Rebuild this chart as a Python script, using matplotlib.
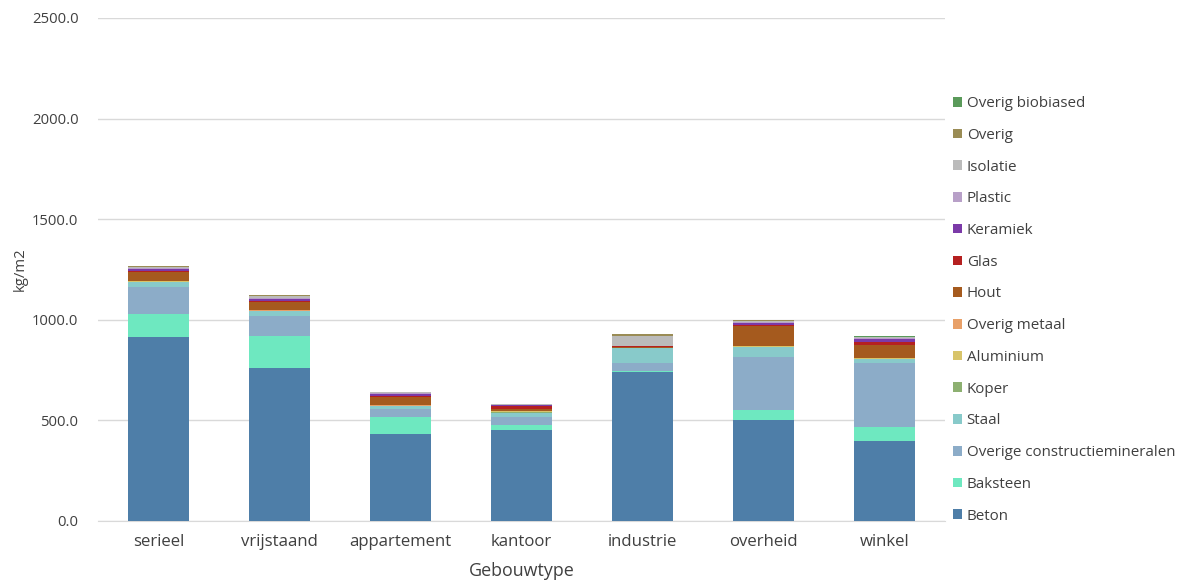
import matplotlib
matplotlib.use("Agg")
import matplotlib.pyplot as plt
import numpy as np

plt.rcParams['font.family'] = ['Open Sans', 'DejaVu Sans']

categories = ["serieel", "vrijstaand", "appartement", "kantoor", "industrie", "overheid", "winkel"]
materials = ["Beton", "Baksteen", "Overige constructiemineralen", "Staal", "Koper", "Aluminium",
             "Overig metaal", "Hout", "Glas", "Keramiek", "Plastic", "Isolatie", "Overig", "Overig biobiased"]

beton      = [916, 759, 432, 452, 742, 502, 399]
baksteen   = [113, 160, 83, 25, 5, 50, 70]
overige    = [135, 100, 42, 41, 37, 265, 318]
staal      = [25, 26, 15, 20, 74, 49, 20]
koper      = [0, 0, 0, 2, 0, 0, 0]
aluminium  = [2, 1, 2, 5, 1, 2, 2]
overig_met = [3, 2, 3, 4, 1, 2, 2]
hout       = [42, 39, 38, 8, 7, 101, 64]
glas       = [6, 8, 6, 15, 1, 5, 13]
keramiek   = [8, 8, 12, 3, 0, 10, 15]
plastic    = [5, 5, 4, 2, 1, 4, 5]
isolatie   = [8, 10, 4, 3, 50, 4, 5]
overig     = [3, 5, 2, 2, 8, 5, 3]
biobiased  = [0, 0, 0, 0, 0, 0, 3]

series = [beton, baksteen, overige, staal, koper, aluminium, overig_met, hout, glas,
          keramiek, plastic, isolatie, overig, biobiased]
colors = ["#4E7EA8", "#6EE8C0", "#8CACC8", "#88CACA", "#8DB071", "#D8C46A", "#E8A068",
          "#A55A1E", "#B52020", "#7B3AA8", "#B8A0C8", "#BBBBBB", "#9A8C55", "#5A9A5A"]

fig = plt.figure(figsize=(11.87, 5.85), dpi=100)
ax = fig.add_axes([98/1187, 1 - 521/585, (945-98)/1187, (521-18)/585])

x = np.arange(len(categories))
bottom = np.zeros(len(categories))
handles = []
for name, vals, c in zip(materials, series, colors):
    b = ax.bar(x, vals, 0.5, bottom=bottom, color=c, label=name, zorder=3)
    bottom += np.array(vals)
    handles.append(b)

ax.set_xlim(-0.5, len(categories) - 0.5)
ax.set_ylim(0, 2500)
ax.set_yticks(np.arange(0, 2501, 500))
ax.set_yticklabels([f"{v:.1f}" for v in np.arange(0, 2501, 500)])
ax.set_xticks(x)
ax.set_xticklabels(categories)
ax.yaxis.grid(True, color="#D9D9D9", linewidth=1, zorder=0)
for s in ["top", "right", "left"]:
    ax.spines[s].set_visible(False)
ax.spines["bottom"].set_color("#D9D9D9")
ax.tick_params(axis="y", length=0, labelsize=10.7, colors="#404040", pad=14)
ax.tick_params(axis="x", length=0, labelsize=12.1, colors="#404040", pad=9)
ax.set_ylabel("kg/m2", fontsize=10.7, color="#404040", labelpad=3)
ax.set_xlabel("Gebouwtype", fontsize=12.9, color="#404040", labelpad=9)

leg = ax.legend(handles[::-1], materials[::-1], loc="upper left", bbox_to_anchor=(947/1187, 1 - 90/585),
                bbox_transform=fig.transFigure, frameon=False, fontsize=10.9, handlelength=0.6,
                handleheight=0.6, handletextpad=0.3, labelspacing=1.105, borderaxespad=0)
for t in leg.get_texts():
    t.set_color("#404040")

fig.savefig("out.png", dpi=100)
